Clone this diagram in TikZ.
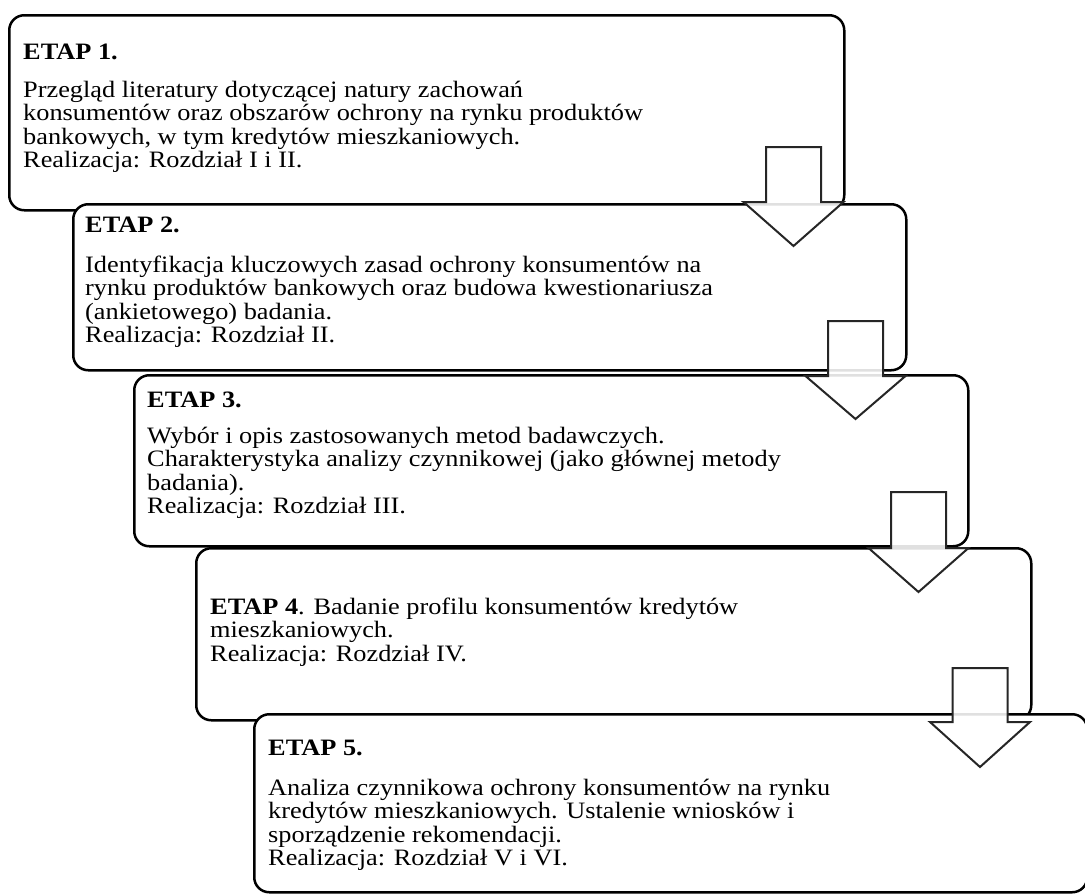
\documentclass[tikz,border=0pt]{standalone}
\usepackage{fontspec}
\setmainfont[FakeStretch=1.12]{Liberation Serif}
\tikzset{
  stage/.style={draw=black, line width=2.5pt, fill=white, rounded corners=15pt, inner sep=0pt, anchor=north west},
  txt/.style={anchor=base west, inner sep=0pt, font=\fontsize{23.5}{23.6}\selectfont},
  blockarrow/.style={draw=black!85, line width=2pt, fill=white, fill opacity=0.88, line join=miter}
}
\newcommand{\barrow}[4]{\draw[blockarrow] ({#1-27.5},#2) -- ({#1+27.5},#2) -- ({#1+27.5},#3) -- ({#1+50},#3) -- (#1,#4) -- ({#1-50},#3) -- ({#1-27.5},#3) -- cycle;}
\newcommand{\lns}[1]{\vtop{#1}}
\begin{document}
\begin{tikzpicture}[x=1pt,y=-1pt]
\path[use as bounding box] (0,0) rectangle (1085,894);
\clip (0,0) rectangle (1085,894);
% box 1
\node[stage, minimum width=835pt, minimum height=195pt] (s1) at (8,14) {};
\node[txt] (h1) at (23,59) {\textbf{ETAP 1.}};
\node[txt] (t1) at (23,97) {\lns{\hbox{Przegląd literatury dotyczącej natury zachowań}\hbox{konsumentów oraz obszarów ochrony na rynku produktów}\hbox{bankowych, w tym kredytów mieszkaniowych.}\hbox{Realizacja: Rozdział I i II.}}};
% box 2
\node[stage, minimum width=833pt, minimum height=166pt] (s2) at (72,203) {};
\node[txt] (h2) at (85,232) {\textbf{ETAP 2.}};
\node[txt] (t2) at (85,272) {\lns{\hbox{Identyfikacja kluczowych zasad ochrony konsumentów na}\hbox{rynku produktów bankowych oraz budowa kwestionariusza}\hbox{(ankietowego) badania.}\hbox{Realizacja: Rozdział II.}}};
% box 3
\node[stage, minimum width=834pt, minimum height=171pt] (s3) at (133,374) {};
\node[txt] (h3) at (147,407) {\textbf{ETAP 3.}};
\node[txt] (t3) at (147,443) {\lns{\hbox{Wybór i opis zastosowanych metod badawczych.}\hbox{Charakterystyka analizy czynnikowej (jako głównej metody}\hbox{badania).}\hbox{Realizacja: Rozdział III.}}};
% box 4
\node[stage, minimum width=835pt, minimum height=172pt] (s4) at (195,547) {};
\node[txt] (t4) at (210,614) {\lns{\hbox{\textbf{ETAP 4}. Badanie profilu konsumentów kredytów}\hbox{mieszkaniowych.}\hbox{Realizacja: Rozdział IV.}}};
% box 5
\node[stage, minimum width=833pt, minimum height=178pt] (s5) at (253,713) {};
\node[txt] (h5) at (268,755) {\textbf{ETAP 5.}};
\node[txt] (t5) at (268,795) {\lns{\hbox{Analiza czynnikowa ochrony konsumentów na rynku}\hbox{kredytów mieszkaniowych. Ustalenie wniosków i}\hbox{sporządzenie rekomendacji.}\hbox{Realizacja: Rozdział V i VI.}}};
% block arrows
\barrow{793.5}{147}{202}{246}
\barrow{855.5}{321}{376}{419}
\barrow{918.5}{492}{548}{592}
\barrow{980}{668}{722}{767}
\end{tikzpicture}
\end{document}
